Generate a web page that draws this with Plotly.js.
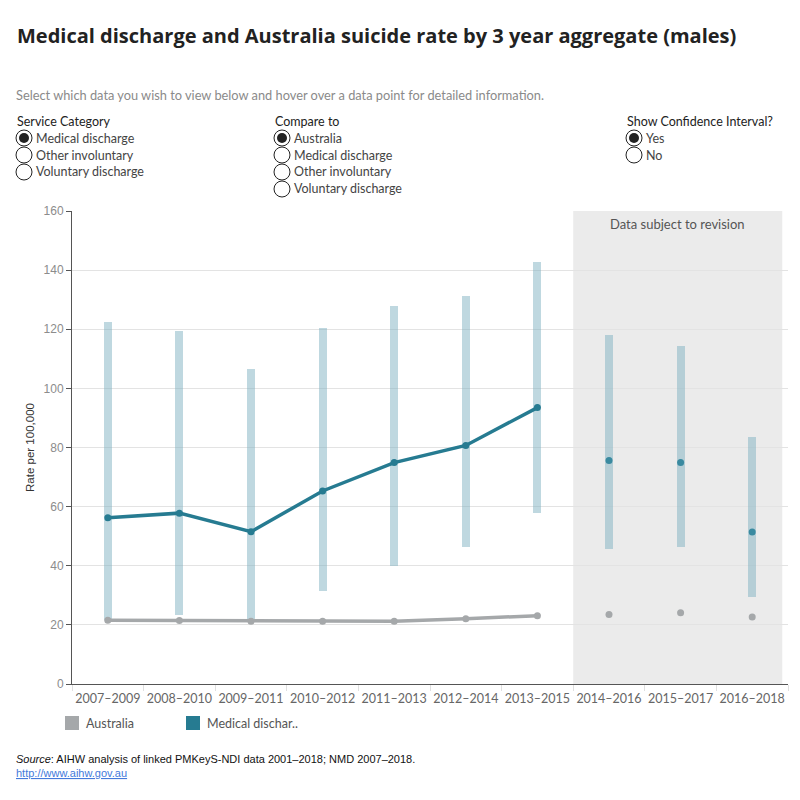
<!DOCTYPE html>
<html>
<head>
<meta charset="utf-8">
<script src="https://cdn.plot.ly/plotly-3.0.1.min.js"></script>
<style>
  html, body { margin: 0; padding: 0; background: #fff; }
  #chart { width: 800px; height: 800px; }
</style>
</head>
<body>
<div id="chart"></div>
<script>
// 3-year aggregate periods
const periods = ['2007–2009', '2008–2010', '2009–2011', '2010–2012', '2011–2013',
                 '2012–2014', '2013–2015', '2014–2016', '2015–2017', '2016–2018'];

// Medical discharge suicide rate per 100,000 (males) with 95% confidence interval
const medicalRate  = [56.2, 57.8, 51.5, 65.3, 74.9, 80.7, 93.5, 75.6, 74.9, 51.4];
const medicalLower = [21.5, 23.3, 21.2, 31.5, 40.0, 46.4, 57.9, 45.7, 46.4, 29.5];
const medicalUpper = [122.3, 119.3, 106.4, 120.3, 128.0, 131.1, 142.9, 118.2, 114.5, 83.4];

// Australian male suicide rate per 100,000
const australiaRate = [21.6, 21.5, 21.2, 21.2, 21.2, 22.1, 23.1, 23.5, 24.1, 22.7];

// Periods from this index onward are subject to revision (shown as points only)
const revisionStart = 7;

const TEAL = '#267b91';
const GREY = '#a5a8aa';

// Plot area in page pixels
const L = 72, R = 788, T = 211, B = 684;
const px = x => (x - L) / (R - L);
const py = y => (B - y) / (B - T);

const confirmed = periods.slice(0, revisionStart);
const revised = periods.slice(revisionStart);

const traces = [
  {
    type: 'bar',
    x: periods,
    base: medicalLower,
    y: medicalUpper.map((u, i) => u - medicalLower[i]),
    width: 0.112,
    marker: { color: 'rgba(128,178,194,0.5)', line: { width: 0 } },
    hoverinfo: 'skip',
    showlegend: false
  },
  {
    type: 'scatter', mode: 'lines+markers',
    x: confirmed, y: australiaRate.slice(0, revisionStart),
    line: { color: GREY, width: 3.5 }, marker: { color: GREY, size: 7 },
    name: 'Australia', showlegend: false
  },
  {
    type: 'scatter', mode: 'markers',
    x: revised, y: australiaRate.slice(revisionStart),
    marker: { color: GREY, size: 7 }, name: 'Australia', showlegend: false
  },
  {
    type: 'scatter', mode: 'lines+markers',
    x: confirmed, y: medicalRate.slice(0, revisionStart),
    line: { color: TEAL, width: 3.5 }, marker: { color: TEAL, size: 7 },
    name: 'Medical discharge', showlegend: false
  },
  {
    type: 'scatter', mode: 'markers',
    x: revised, y: medicalRate.slice(revisionStart),
    marker: { color: '#3a8aa0', size: 7 }, name: 'Medical discharge', showlegend: false
  }
];

const UI_FONT = 'Lato, "Noto Sans", sans-serif';
const annotations = [];
const shapes = [];

function label(text, x, y, opts) {
  annotations.push(Object.assign({
    text: text, xref: 'paper', yref: 'paper', x: px(x), y: py(y),
    xanchor: 'left', yanchor: 'middle', showarrow: false,
    font: { family: UI_FONT, size: 12.5, color: '#333' }
  }, opts || {}));
}

function radio(cx, cy, selected) {
  const r = 8;
  shapes.push({
    type: 'circle', xref: 'paper', yref: 'paper',
    x0: px(cx - r), x1: px(cx + r), y0: py(cy + r), y1: py(cy - r),
    line: { color: '#222', width: 1 }, fillcolor: '#fff', layer: 'above'
  });
  if (selected) {
    const s = 5;
    shapes.push({
      type: 'circle', xref: 'paper', yref: 'paper',
      x0: px(cx - s), x1: px(cx + s), y0: py(cy + s), y1: py(cy - s),
      line: { width: 0 }, fillcolor: '#222', layer: 'above'
    });
  }
}

function radioGroup(title, x, options, selectedIndex) {
  label(title, x - 9, 121, { font: { family: UI_FONT, size: 12.5, color: '#222' } });
  options.forEach((opt, i) => {
    const cy = 138 + i * 17;
    radio(x, cy, i === selectedIndex);
    label(opt, x + 10, cy, { font: { family: UI_FONT, size: 12.5, color: '#444' } });
  });
}

// Chart heading and instructions
label('<b>Medical discharge and Australia suicide rate by 3 year aggregate (males)</b>', 15, 35,
  { font: { family: '"Open Sans", Lato, sans-serif', size: 20, color: '#222' } });
label('Select which data you wish to view below and hover over a data point for detailed information.', 14, 95,
  { font: { family: UI_FONT, size: 12.8, color: '#8a8a8a' } });

// Filter controls
radioGroup('Service Category', 24, ['Medical discharge', 'Other involuntary', 'Voluntary discharge'], 0);
radioGroup('Compare to', 282, ['Australia', 'Medical discharge', 'Other involuntary', 'Voluntary discharge'], 0);
radioGroup('Show Confidence Interval?', 634, ['Yes', 'No'], 0);

// Shaded region for provisional data
shapes.push({
  type: 'rect', xref: 'x', yref: 'paper',
  x0: 6.5, x1: 9.42, y0: 0, y1: 1,
  fillcolor: '#ebebeb', line: { width: 0 }, layer: 'below'
});
annotations.push({
  text: 'Data subject to revision', xref: 'x', yref: 'paper', x: 7.96, y: py(224),
  xanchor: 'center', yanchor: 'middle', showarrow: false,
  font: { family: UI_FONT, size: 13, color: '#555' }
});

// Legend
shapes.push({ type: 'rect', xref: 'paper', yref: 'paper',
  x0: px(65), x1: px(79), y0: py(730), y1: py(716), fillcolor: GREY, line: { width: 0 } });
label('Australia', 84, 723, { font: { family: UI_FONT, size: 12.5, color: '#555' } });
shapes.push({ type: 'rect', xref: 'paper', yref: 'paper',
  x0: px(186), x1: px(200), y0: py(730), y1: py(716), fillcolor: TEAL, line: { width: 0 } });
label('Medical dischar..', 205, 723, { font: { family: UI_FONT, size: 12.5, color: '#555' } });

// Source note
label('<i>Source</i>: AIHW analysis of linked PMKeyS-NDI data 2001–2018; NMD 2007–2018.', 14, 759,
  { font: { family: 'Arial, "Liberation Sans", sans-serif', size: 11, color: '#111' } });
label('<a href="http://www.aihw.gov.au" style="text-decoration:underline">http://www.aihw.gov.au</a>', 14, 773,
  { font: { family: 'Arial, "Liberation Sans", sans-serif', size: 11, color: '#3366cc' } });

const layout = {
  width: 800, height: 800,
  margin: { l: L, r: 800 - R, t: T, b: 800 - B, pad: 0 },
  paper_bgcolor: '#fff', plot_bgcolor: 'rgba(0,0,0,0)',
  showlegend: false,
  bargap: 0,
  xaxis: {
    type: 'category', categoryorder: 'array', categoryarray: periods,
    range: [-0.5, 9.5], fixedrange: true,
    showline: true, linecolor: '#555', linewidth: 1,
    showgrid: false, zeroline: false,
    ticks: 'outside', tickson: 'boundaries', ticklen: 6, tickcolor: '#e0e0e0',
    tickangle: 0, automargin: false, ticklabelstandoff: 3,
    tickfont: { family: UI_FONT, size: 12.5, color: '#666' }
  },
  yaxis: {
    range: [0, 160], dtick: 20, fixedrange: true,
    showline: true, linecolor: '#555', linewidth: 1,
    ticks: 'outside', ticklen: 5, tickcolor: '#555',
    gridcolor: '#e3e3e3', zeroline: false, automargin: false,
    tickfont: { family: 'Arial, "Liberation Sans", sans-serif', size: 12, color: '#8c8c8c' },
    title: { text: 'Rate per 100,000', standoff: 6,
      font: { family: 'Arial, "Liberation Sans", sans-serif', size: 11.5, color: '#333' } }
  },
  shapes: shapes,
  annotations: annotations
};

Plotly.newPlot('chart', traces, layout, { displayModeBar: false });
</script>
</body>
</html>
